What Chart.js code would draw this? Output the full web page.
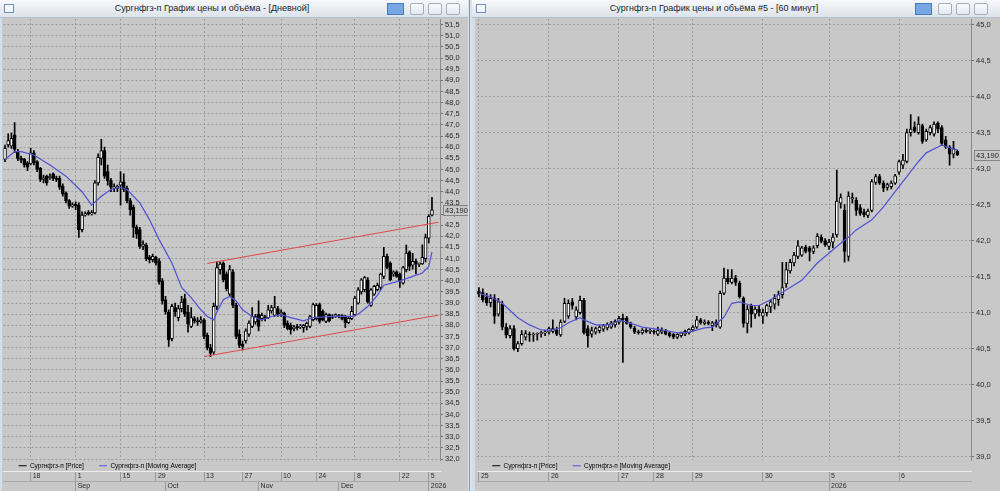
<!DOCTYPE html>
<html>
<head>
<meta charset="utf-8">
<script src="https://cdn.jsdelivr.net/npm/chart.js@4/dist/chart.umd.min.js"></script>
<style>
  body { margin: 0; width: 1000px; height: 491px; background: #d8e1eb; position: relative; overflow: hidden; font-family: 'Liberation Sans', Arial, sans-serif; }
  .win { position: absolute; top: 0; height: 491px; background: #c8c8c8; }
  .tb { position: absolute; left: 0; top: 0; right: 0; height: 17px; background: linear-gradient(#f6f8fb, #dde3ea); border-bottom: 1px solid #b4becb; }
  .tt { position: absolute; top: 0; line-height: 17px; font-size: 9px; color: #1e1e1e; white-space: nowrap; transform: translateX(-50%); }
  .ico { position: absolute; left: 4px; top: 4px; width: 8px; height: 7px; border: 1px solid #6f8fb6; background: #f4f7fb; }
  .pin { position: absolute; top: 3px; width: 15px; height: 10px; background: #76a6e4; border: 1px solid #4a78bd; }
  .btn { position: absolute; top: 3px; width: 12px; height: 10px; background: linear-gradient(#fbfcfd, #e2e7ee); border: 1px solid #a3afbd; border-radius: 2px; }
  .edge { position: absolute; top: 18px; bottom: 0; width: 2px; background: #d3deeb; z-index: 2; }
  .sep { position: absolute; top: 0; bottom: 0; left: 469px; width: 1px; background: #8f99a6; }
  canvas { position: absolute; left: 0; top: 18px; }
</style>
</head>
<body>
<div class="sep"></div>
<div class="win" style="left:0;width:468px">
  <div class="tb">
    <span class="ico"></span>
    <span class="tt" style="left:212px">Сургнфгз-п График цены и объёма - [Дневной]</span>
    <span class="pin" style="left:387px"></span>
    <span class="btn" style="left:410px"></span>
    <span class="btn" style="left:428px"></span>
    <span class="btn" style="left:446px"></span>
  </div>
  <canvas id="daily" width="468" height="473"></canvas>
  <div class="edge" style="left:0"></div>
</div>
<div class="win" style="left:472px;width:528px">
  <div class="tb">
    <span class="ico"></span>
    <span class="tt" style="left:242px">Сургнфгз-п График цены и объёма #5 - [60 минут]</span>
    <span class="pin" style="left:443px"></span>
    <span class="btn" style="left:466px"></span>
    <span class="btn" style="left:484px"></span>
    <span class="btn" style="left:502px"></span>
  </div>
  <canvas id="hourly" width="528" height="473"></canvas>
  <div class="edge" style="left:0;width:3px"></div>
</div>
<script>
// daily candles (left window)
const dOpen = [45.45, 46.1, 46.05, 46.55, 45.8, 45.5, 45.45, 45.3, 45.25, 45.75,
  45.35, 45.05, 44.55, 44.7, 44.62, 44.8, 44.62, 44.6, 44.25, 43.95,
  43.6, 43.35, 43.45, 43.4, 42.3, 42.95, 43.08, 43.0, 43.05, 44.4,
  45.5, 45.85, 44.9, 44.5, 44.15, 44.15, 44.3, 44.45, 44.15, 43.6,
  43.3, 42.4, 42.3, 41.55, 41.6, 41.05, 40.95, 41.05, 40.9, 40.0,
  39.15, 38.6, 37.4, 38.8, 38.35, 38.75, 39.2, 38.6, 37.95, 38.3,
  38.2, 38.15, 38.25, 37.55, 37.0, 36.8, 38.85, 40.5, 40.8, 40.3,
  39.4, 40.4, 38.9, 37.6, 37.15, 37.3, 37.6, 37.95, 38.15, 38.5,
  38.3, 38.38, 38.35, 38.65, 38.45, 38.75, 38.5, 38.55, 38.1, 38.0,
  37.85, 37.95, 37.93, 37.9, 37.95, 37.95, 38.26, 38.3, 38.93, 38.63,
  38.18, 38.48, 38.42, 38.4, 38.38, 38.44, 38.4, 38.12, 38.3, 38.48,
  39.0, 39.5, 39.6, 40.05, 38.9, 39.4, 39.6, 39.7, 40.2, 41.1,
  40.8, 40.3, 40.4, 40.3, 39.9, 40.5, 41.3, 40.7, 40.87, 40.74,
  40.76, 41.0, 41.92, 42.95];
const dHigh = [46.1, 46.6, 46.65, 47.1, 45.9, 45.6, 45.5, 45.35, 45.95, 45.85,
  45.4, 45.1, 44.75, 44.75, 44.8, 44.85, 44.7, 44.7, 44.35, 44.0,
  43.65, 43.5, 43.55, 43.5, 43.1, 43.1, 43.15, 43.15, 44.5, 45.7,
  46.35, 46.0, 45.2, 44.6, 44.35, 44.3, 44.9, 44.8, 44.25, 43.7,
  43.4, 42.5, 42.4, 41.8, 41.7, 41.15, 41.2, 41.1, 41.0, 40.1,
  39.3, 38.7, 38.95, 39.0, 38.9, 39.3, 39.4, 38.9, 38.8, 38.4,
  38.35, 38.4, 38.3, 37.65, 37.15, 39.0, 40.85, 40.85, 40.85, 40.4,
  40.7, 40.5, 39.0, 37.8, 37.3, 37.85, 38.2, 38.8, 38.5, 39.1,
  38.55, 38.45, 38.9, 38.9, 39.3, 38.85, 38.7, 38.6, 38.2, 38.1,
  38.0, 38.05, 38.05, 38.05, 38.15, 38.45, 39.0, 38.98, 39.0, 38.7,
  38.55, 38.52, 38.48, 38.52, 38.5, 38.48, 38.45, 38.36, 38.86, 39.3,
  39.7, 40.1, 40.2, 40.15, 39.65, 39.8, 39.9, 40.35, 41.5, 41.2,
  40.85, 40.45, 40.45, 40.35, 40.65, 41.6, 41.35, 41.23, 40.98, 40.8,
  41.62, 42.1, 42.98, 43.75];
const dLow = [45.35, 46.0, 45.95, 45.75, 45.4, 45.3, 45.1, 44.95, 45.2, 45.2,
  44.9, 44.45, 44.4, 44.3, 44.55, 44.5, 44.45, 44.1, 43.8, 43.5,
  43.25, 43.3, 43.2, 41.95, 42.2, 42.9, 42.95, 42.95, 43.0, 44.3,
  45.2, 44.6, 44.3, 44.0, 44.0, 44.0, 43.4, 44.0, 43.5, 42.95,
  41.95, 41.9, 41.45, 41.4, 40.9, 40.8, 40.85, 40.7, 39.85, 38.95,
  38.5, 37.05, 37.3, 38.4, 38.2, 38.6, 38.4, 37.7, 37.9, 38.1,
  38.0, 38.1, 37.4, 36.9, 36.6, 36.7, 38.7, 40.3, 39.95, 39.55,
  39.3, 38.8, 37.4, 37.0, 36.9, 37.2, 37.5, 37.9, 38.05, 37.75,
  38.2, 38.2, 38.3, 38.55, 38.4, 38.4, 38.4, 37.9, 37.8, 37.6,
  37.75, 37.8, 37.85, 37.7, 37.8, 37.9, 38.2, 38.25, 38.1, 38.2,
  38.12, 38.15, 38.3, 38.36, 38.34, 38.24, 37.9, 38.08, 38.26, 38.42,
  38.95, 39.4, 39.5, 39.0, 38.85, 39.35, 39.55, 39.6, 40.1, 40.55,
  40.0, 40.2, 40.15, 39.7, 39.85, 40.4, 40.46, 40.52, 40.31, 40.64,
  40.74, 40.85, 41.7, 42.92];
const dClose = [45.95, 46.3, 46.4, 45.9, 45.5, 45.42, 45.2, 45.1, 45.75, 45.3,
  45.0, 44.55, 44.62, 44.4, 44.7, 44.6, 44.55, 44.2, 43.9, 43.6,
  43.35, 43.42, 43.35, 42.3, 42.95, 43.02, 43.0, 43.06, 44.4, 45.55,
  45.85, 44.7, 44.5, 44.2, 44.22, 44.25, 44.45, 44.1, 43.6, 43.2,
  42.4, 42.1, 41.55, 41.65, 41.0, 40.95, 41.1, 40.8, 39.95, 39.1,
  38.6, 37.35, 38.85, 38.6, 38.75, 39.05, 38.5, 38.05, 38.35, 38.2,
  38.15, 38.25, 37.5, 37.0, 36.75, 38.85, 40.6, 40.75, 40.05, 39.65,
  40.5, 38.9, 37.5, 37.1, 37.05, 37.75, 38.1, 38.4, 38.4, 37.95,
  38.45, 38.3, 38.7, 38.8, 38.8, 38.5, 38.6, 38.0, 37.85, 37.8,
  37.92, 37.9, 37.97, 38.0, 38.1, 38.4, 38.93, 38.9, 38.18, 38.26,
  38.48, 38.2, 38.36, 38.48, 38.44, 38.28, 38.12, 38.32, 38.63, 39.23,
  39.6, 40.05, 40.15, 39.05, 39.6, 39.75, 39.8, 40.3, 41.1, 40.6,
  40.05, 40.4, 40.2, 40.0, 40.6, 41.25, 40.65, 40.88, 40.75, 40.77,
  41.05, 41.94, 42.9, 43.19];
// moving average: [candle index, value]
const dMA = [[0, 45.45], [3, 45.8], [5, 45.8], [9, 45.65], [14, 45.2], [19, 44.7], [24, 44.0], [27, 43.4],
  [30, 43.8], [33, 44.1], [36, 44.2], [38, 44.1], [42, 43.5], [45, 42.75], [48, 41.85], [52, 40.8],
  [55, 39.7], [58, 39.25], [61, 38.7], [63, 38.4], [65, 38.25], [66, 38.6], [68, 39.15], [70, 39.3],
  [72, 39.1], [74, 38.7], [77, 38.4], [80, 38.25], [83, 38.4], [86, 38.48], [89, 38.35], [93, 38.2],
  [96, 38.35], [102, 38.4], [108, 38.4], [110, 38.5], [113, 38.85], [116, 39.35], [118, 39.8],
  [123, 40.0], [127, 40.2], [130, 40.35], [132, 40.65], [133, 41.3]];
// trend channel
const dUpper = [[63, 40.78], [135, 42.63]];
const dLower = [[62, 36.6], [135, 38.46]];
const dYTicks = [32.0, 32.5, 33.0, 33.5, 34.0, 34.5, 35.0, 35.5, 36.0, 36.5, 37.0, 37.5, 38.0, 38.5,
  39.0, 39.5, 40.0, 40.5, 41.0, 41.5, 42.0, 42.5, 43.0, 43.5, 44.0, 44.5, 45.0, 45.5, 46.0, 46.5,
  47.0, 47.5, 48.0, 48.5, 49.0, 49.5, 50.0, 50.5, 51.0, 51.5];
const dDayIdx = [8, 22, 36, 47, 62, 74, 86, 97, 109, 123, 132];
const dDayTxt = ['18', '1', '15', '29', '13', '27', '10', '24', '8', '22', '5'];
const dMonIdx = [22, 50, 79, 104, 132];
const dMonTxt = ['Sep', 'Oct', 'Nov', 'Dec', '2026'];

// hourly candles (right window)
const hOpen = [41.3, 41.28, 41.22, 41.14, 41.2, 40.98, 41.12, 40.8, 40.68, 40.78,
  40.5, 40.57, 40.66, 40.7, 40.69, 40.7, 40.71, 40.72, 40.73, 40.74,
  40.76, 40.69, 40.88, 40.95, 41.15, 40.94, 41.0, 41.17, 40.78, 40.7,
  40.73, 40.75, 40.77, 40.79, 40.8, 40.83, 40.87, 40.92, 40.93, 40.85,
  40.79, 40.73, 40.72, 40.75, 40.74, 40.74, 40.7, 40.73, 40.76, 40.72,
  40.7, 40.66, 40.68, 40.7, 40.72, 40.76, 40.8, 40.9, 40.85, 40.87,
  40.82, 40.87, 40.8, 41.27, 41.48, 41.42, 41.48, 41.41, 41.2, 40.85,
  41.1, 40.98, 41.05, 40.95, 41.0, 41.08, 41.12, 41.18, 41.25, 41.4,
  41.58, 41.69, 41.78, 41.8, 41.91, 41.9, 41.85, 41.93, 42.05, 42.0,
  41.92, 41.98, 42.08, 42.52, 42.42, 41.78, 42.58, 42.56, 42.46, 42.4,
  42.35, 42.42, 42.81, 42.89, 42.8, 42.74, 42.75, 42.8, 42.95, 43.05,
  43.1, 43.5, 43.58, 43.5, 43.6, 43.4, 43.5, 43.48, 43.63, 43.57,
  43.4, 43.3, 43.2, 43.24];
const hHigh = [41.35, 41.33, 41.27, 41.25, 41.25, 41.2, 41.16, 40.85, 40.82, 40.82,
  40.6, 40.75, 40.75, 40.73, 40.72, 40.72, 40.74, 40.76, 40.8, 40.9,
  40.8, 40.9, 41.2, 41.18, 41.2, 41.08, 41.23, 41.2, 40.82, 40.8,
  40.8, 40.82, 40.84, 40.86, 40.88, 40.9, 40.95, 40.98, 40.95, 40.87,
  40.81, 40.76, 40.78, 40.78, 40.77, 40.76, 40.8, 40.79, 40.77, 40.74,
  40.71, 40.71, 40.73, 40.76, 40.78, 40.82, 40.95, 40.92, 40.9, 40.89,
  40.88, 40.9, 41.3, 41.62, 41.6, 41.6, 41.52, 41.44, 41.22, 41.1,
  41.12, 41.08, 41.1, 41.05, 41.12, 41.18, 41.25, 41.3, 41.7, 41.7,
  41.74, 41.84, 42.0, 41.92, 41.94, 41.92, 41.93, 42.1, 42.08, 42.03,
  42.02, 42.1, 42.98, 42.65, 42.5, 42.68, 42.66, 42.6, 42.5, 42.44,
  42.44, 42.85, 42.92, 42.92, 42.83, 42.8, 42.83, 42.92, 43.12, 43.2,
  43.55, 43.75, 43.65, 43.72, 43.62, 43.55, 43.6, 43.65, 43.65, 43.6,
  43.45, 43.32, 43.38, 43.26];
const hLow = [41.22, 41.15, 41.1, 41.08, 40.85, 40.95, 40.76, 40.65, 40.65, 40.48,
  40.46, 40.55, 40.62, 40.6, 40.6, 40.62, 40.66, 40.68, 40.7, 40.72,
  40.68, 40.67, 40.86, 40.92, 41.05, 40.9, 40.98, 40.7, 40.52, 40.66,
  40.7, 40.72, 40.74, 40.76, 40.78, 40.8, 40.84, 40.31, 40.84, 40.78,
  40.71, 40.7, 40.7, 40.72, 40.71, 40.7, 40.68, 40.71, 40.69, 40.66,
  40.64, 40.64, 40.66, 40.68, 40.7, 40.74, 40.78, 40.84, 40.83, 40.83,
  40.75, 40.8, 40.78, 41.25, 41.4, 41.4, 41.38, 41.2, 40.8, 40.72,
  40.8, 40.92, 40.95, 40.85, 40.95, 41.0, 41.05, 41.1, 41.2, 41.35,
  41.55, 41.65, 41.75, 41.78, 41.83, 41.72, 41.82, 41.9, 41.97, 41.92,
  41.88, 41.9, 42.05, 42.45, 41.7, 41.72, 42.52, 42.35, 42.35, 42.33,
  42.32, 42.4, 42.78, 42.78, 42.68, 42.7, 42.72, 42.78, 42.92, 43.0,
  43.08, 43.45, 43.5, 43.48, 43.35, 43.38, 43.47, 43.45, 43.5, 43.32,
  43.28, 43.05, 43.15, 43.18];
const hClose = [41.26, 41.18, 41.14, 41.2, 40.95, 41.15, 40.8, 40.69, 40.78, 40.5,
  40.57, 40.7, 40.71, 40.69, 40.7, 40.71, 40.72, 40.73, 40.78, 40.78,
  40.7, 40.87, 41.13, 41.13, 41.1, 41.04, 41.17, 40.72, 40.68, 40.75,
  40.78, 40.8, 40.82, 40.84, 40.86, 40.88, 40.92, 40.9, 40.85, 40.8,
  40.73, 40.72, 40.76, 40.74, 40.75, 40.73, 40.75, 40.76, 40.7, 40.68,
  40.66, 40.7, 40.72, 40.74, 40.77, 40.8, 40.9, 40.86, 40.87, 40.85,
  40.86, 40.83, 41.27, 41.48, 41.43, 41.48, 41.42, 41.22, 40.85, 41.05,
  40.98, 41.05, 41.0, 41.0, 41.1, 41.15, 41.2, 41.25, 41.35, 41.6,
  41.7, 41.8, 41.93, 41.9, 41.85, 41.85, 41.9, 42.06, 41.99, 41.94,
  41.98, 42.05, 42.55, 42.6, 41.85, 42.62, 42.6, 42.42, 42.38, 42.36,
  42.41, 42.82, 42.89, 42.8, 42.73, 42.78, 42.8, 42.9, 43.1, 43.12,
  43.5, 43.55, 43.52, 43.62, 43.38, 43.52, 43.57, 43.62, 43.55, 43.35,
  43.3, 43.2, 43.28, 43.19];
const hMA = [[0, 41.27], [3, 41.22], [6, 41.13], [10, 40.93], [13, 40.83], [16, 40.76], [18, 40.75],
  [21, 40.79], [23, 40.86], [26, 40.93], [27, 40.9], [30, 40.83], [34, 40.83], [36, 40.9], [38, 40.87],
  [42, 40.8], [47, 40.76], [51, 40.72], [54, 40.73], [58, 40.79], [60, 40.8], [63, 40.94], [65, 41.13],
  [67, 41.15], [70, 41.1], [72, 41.1], [75, 41.18], [77, 41.25], [80, 41.35], [83, 41.45], [87, 41.69],
  [92, 41.92], [95, 42.05], [97, 42.15], [101, 42.29], [104, 42.47], [107, 42.68], [110, 42.89],
  [113, 43.1], [115, 43.22], [118, 43.3], [119, 43.33], [121, 43.29], [123, 43.26]];
const hYTicks = [39.0, 39.5, 40.0, 40.5, 41.0, 41.5, 42.0, 42.5, 43.0, 43.5, 44.0, 44.5, 45.0];
const hDayIdx = [0, 18, 36, 45, 55, 73, 90, 108];
const hDayTxt = ['25', '26', '27', '28', '29', '30', '5', '6'];
const hMonIdx = [90];
const hMonTxt = ['2026'];

Chart.defaults.font.family = "'Liberation Sans', Arial, sans-serif";
Chart.defaults.color = '#262626';

const MA_COLOR = '#5151d4';

// boxed last price next to the price axis
const lastPrice = {
  id: 'lastPrice',
  afterDraw(chart, args, opts) {
    if (opts.value == null) return;
    const ys = chart.scales.y;
    const py = Math.round(ys.getPixelForValue(opts.value));
    const ctx = chart.ctx;
    ctx.save();
    ctx.font = "7.5px 'Liberation Sans', Arial, sans-serif";
    const txt = opts.value.toFixed(3).replace('.', ',');
    const w = Math.ceil(ctx.measureText(txt).width) + 4;
    const x = Math.round(ys.left) + 3;
    ctx.fillStyle = '#c8c8c8';
    ctx.fillRect(x, py - 5, w, 10);
    ctx.strokeStyle = '#858585';
    ctx.lineWidth = 1;
    ctx.strokeRect(x + 0.5, py - 4.5, w, 10);
    ctx.fillStyle = '#1e1e1e';
    ctx.textBaseline = 'middle';
    ctx.fillText(txt, x + 2, py + 0.5);
    ctx.restore();
  }
};

function tickText(idx, txt) {
  return v => {
    const k = idx.indexOf(v);
    return k < 0 ? '' : txt[k];
  };
}

function candleChart(id, p) {
  const labels = Array.from({ length: p.slots }, (_, i) => i);
  const up = p.open.map((o, i) => p.close[i] >= o);
  const datasets = [
    {
      type: 'bar', label: 'body', xAxisID: 'x', yAxisID: 'y',
      data: p.open.map((o, i) => [o, p.close[i]]),
      backgroundColor: up.map(u => u ? '#ffffff' : '#000000'),
      borderColor: '#000000', borderWidth: 1, borderSkipped: false,
      barThickness: 3, minBarLength: 1, grouped: false, order: 2
    },
    {
      type: 'bar', label: 'wick', xAxisID: 'x', yAxisID: 'y',
      data: p.low.map((l, i) => [l, p.high[i]]),
      backgroundColor: '#000000', borderWidth: 0,
      barThickness: 1, minBarLength: 1, grouped: false, order: 3
    },
    {
      type: 'line', label: 'ma', xAxisID: 'x', yAxisID: 'y',
      data: p.ma.map(([x, y]) => ({ x, y })),
      borderColor: MA_COLOR, borderWidth: 1.2, pointRadius: 0, tension: 0, order: 1
    }
  ];
  (p.channel || []).forEach(c => datasets.push({
    type: 'line', label: 'channel', xAxisID: 'x', yAxisID: 'y',
    data: c.map(([x, y]) => ({ x, y })),
    borderColor: '#e0474a', borderWidth: 1, pointRadius: 0, order: 0
  }));

  const blank = { text: '', strokeStyle: 'rgba(0,0,0,0)', fillStyle: 'rgba(0,0,0,0)', lineWidth: 0, pointStyle: 'line', hidden: false };

  const xCommon = {
    type: 'category', position: 'bottom', offset: true,
    afterFit: s => { s.height = 10; s.paddingLeft = 0; s.paddingRight = 0; }
  };

  return new Chart(document.getElementById(id), {
    type: 'bar',
    data: { labels, datasets },
    options: {
      responsive: false,
      animation: false,
      events: [],
      layout: { padding: { left: p.padLeft, top: 1, right: 0, bottom: 0 } },
      scales: {
        x: {
          ...xCommon, weight: 2,
          afterBuildTicks: s => { s.ticks = p.dayIdx.map(v => ({ value: v })); },
          grid: { offset: false, color: '#9c9c9c', lineWidth: 1, drawTicks: true, tickLength: 10, tickColor: '#9a9a9a' },
          border: { color: '#ededed', width: 1, dash: [2, 2] },
          ticks: {
            autoSkip: false, maxRotation: 0, minRotation: 0, align: 'start', labelOffset: 2, padding: -9,
            font: { size: 7 }, color: '#2a2a2a', callback: tickText(p.dayIdx, p.dayTxt)
          }
        },
        x2: {
          ...xCommon, weight: 3,
          afterBuildTicks: s => { s.ticks = p.monIdx.map(v => ({ value: v })); },
          grid: { offset: false, drawOnChartArea: false, drawTicks: true, tickLength: 10, tickColor: '#9a9a9a' },
          border: { color: '#a9a9a9', width: 1 },
          ticks: {
            autoSkip: false, maxRotation: 0, minRotation: 0, align: 'start', labelOffset: 2, padding: -9,
            font: { size: 7 }, color: '#2a2a2a', callback: tickText(p.monIdx, p.monTxt)
          }
        },
        y: {
          type: 'linear', position: 'right', min: p.yMin, max: p.yMax, bounds: 'data',
          afterBuildTicks: s => { s.ticks = p.yTicks.map(v => ({ value: v })); },
          afterFit: s => { s.width = p.axisW; s.paddingTop = 0; s.paddingBottom = 0; },
          grid: { color: '#9c9c9c', lineWidth: 1, drawTicks: true, tickLength: 3, tickColor: '#707070' },
          border: { color: '#8a8a8a', width: 1, dash: [2, 2] },
          ticks: {
            autoSkip: false, padding: 2, font: { size: 7.5 }, color: '#2a2a2a',
            callback: v => v.toFixed(1).replace('.', ',')
          }
        }
      },
      plugins: {
        tooltip: { enabled: false },
        lastPrice: { value: p.close[p.close.length - 1] },
        legend: {
          position: 'bottom', align: 'start', fullSize: false, weight: 1, maxHeight: 10.5,
          labels: {
            usePointStyle: true, pointStyleWidth: 8, boxHeight: 6.5, padding: 2,
            font: { size: 6.5 }, color: '#1e1e1e',
            generateLabels: () => [
              blank,
              { text: 'Сургнфгз-п [Price]', strokeStyle: '#000000', fillStyle: '#000000', lineWidth: 1, pointStyle: 'line', hidden: false },
              blank,
              { text: 'Сургнфгз-п [Moving Average]', strokeStyle: MA_COLOR, fillStyle: MA_COLOR, lineWidth: 1, pointStyle: 'line', hidden: false }
            ]
          }
        }
      }
    },
    plugins: [lastPrice]
  });
}

candleChart('daily', {
  slots: 136, padLeft: 3.4, axisW: 28,
  open: dOpen, high: dHigh, low: dLow, close: dClose, ma: dMA, channel: [dUpper, dLower],
  yMin: 31.933, yMax: 51.756, yTicks: dYTicks,
  dayIdx: dDayIdx, dayTxt: dDayTxt, monIdx: dMonIdx, monTxt: dMonTxt
});

candleChart('hourly', {
  slots: 127, padLeft: 5, axisW: 29,
  open: hOpen, high: hHigh, low: hLow, close: hClose, ma: hMA,
  yMin: 38.947, yMax: 45.079, yTicks: hYTicks,
  dayIdx: hDayIdx, dayTxt: hDayTxt, monIdx: hMonIdx, monTxt: hMonTxt
});
</script>
</body>
</html>
